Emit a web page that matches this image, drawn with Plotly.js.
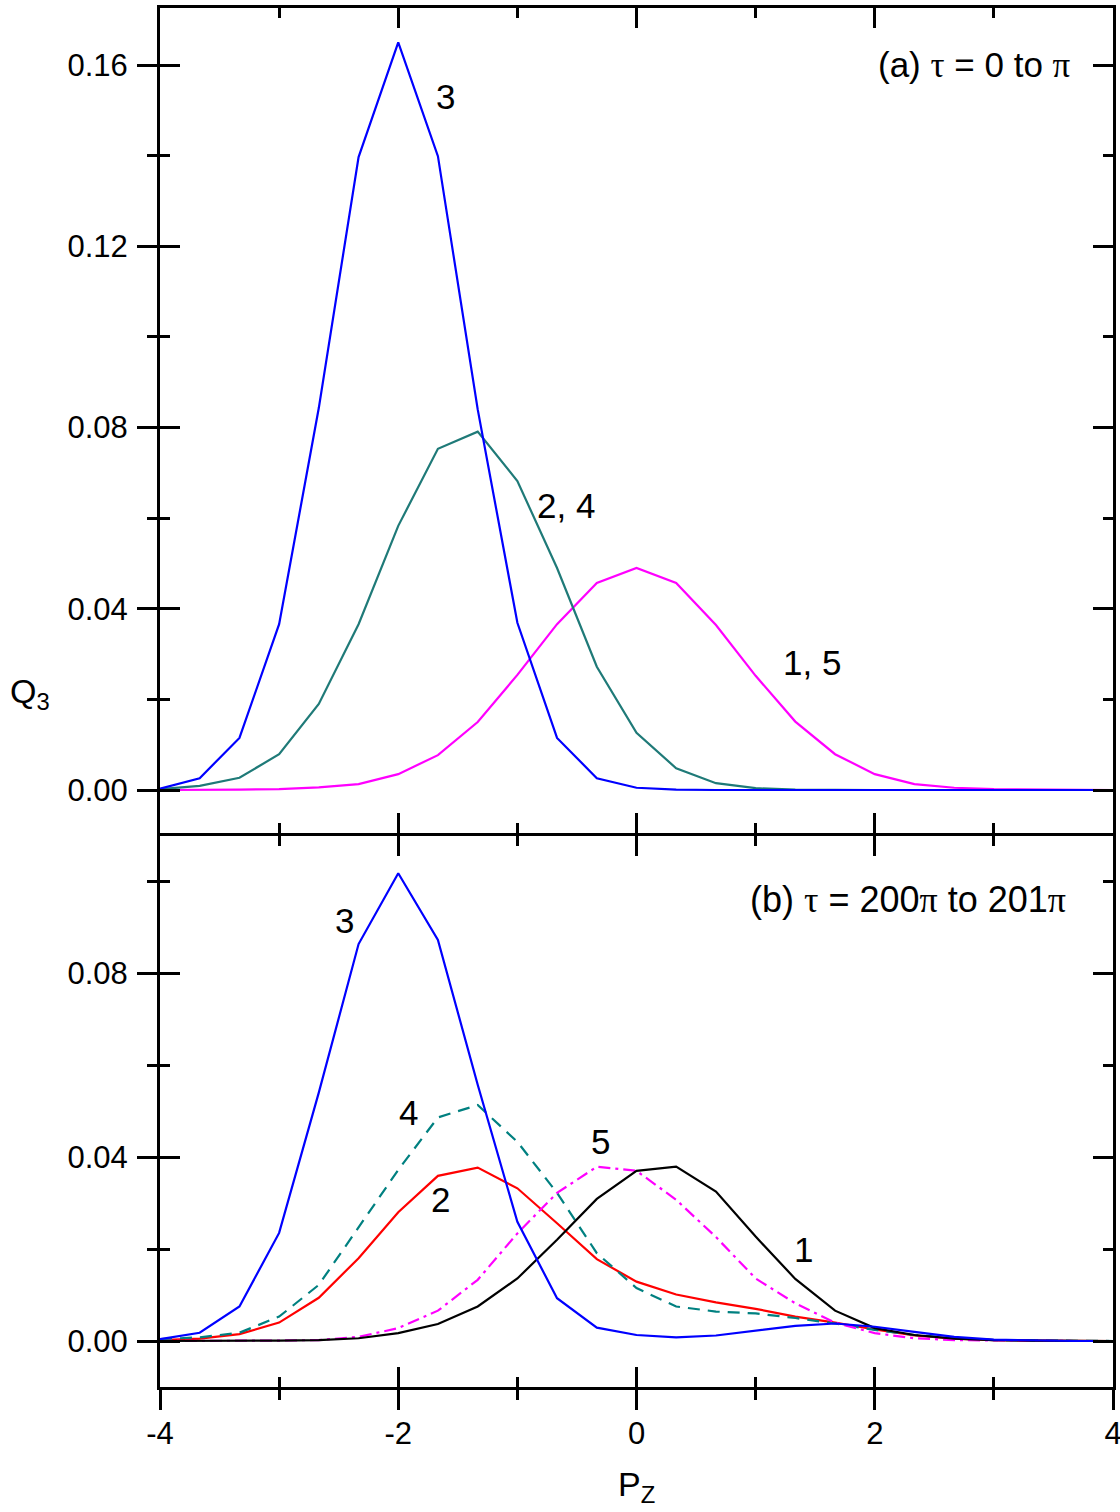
<!DOCTYPE html>
<html>
<head>
<meta charset="utf-8">
<script src="https://cdn.plot.ly/plotly-3.0.1.min.js"></script>
<style>html,body{margin:0;padding:0;background:#fff;}</style>
</head>
<body>
<div id="chart" style="width:1120px;height:1512px;"></div>
<script>
// ---- data ----
const pz = [-4, -3.667, -3.333, -3, -2.667, -2.333, -2, -1.667, -1.333, -1, -0.667, -0.333, 0,
            0.333, 0.667, 1, 1.333, 1.667, 2, 2.333, 2.667, 3, 3.333, 3.667, 4];

// panel (a): tau = 0 to pi
const aQ3  = [0.0003, 0.0026, 0.0115, 0.0366, 0.0843, 0.1397, 0.1650, 0.1399, 0.0840, 0.0369, 0.0115, 0.0026, 0.0005,
              0.0001, 0, 0, 0, 0, 0, 0, 0, 0, 0, 0, 0];
const aQ24 = [0.0002, 0.0009, 0.0027, 0.0079, 0.0190, 0.0366, 0.0583, 0.0753, 0.0791, 0.0682, 0.0490, 0.0272, 0.0126,
              0.0048, 0.0015, 0.0004, 0.0001, 0, 0, 0, 0, 0, 0, 0, 0];
const aQ15 = [0, 0, 0.0001, 0.0002, 0.0006, 0.0013, 0.0035, 0.0077, 0.0150, 0.0254, 0.0366, 0.0457, 0.0490,
              0.0457, 0.0364, 0.0252, 0.0151, 0.0079, 0.0035, 0.0013, 0.0005, 0.0002, 0.0001, 0, 0];

// panel (b): tau = 200pi to 201pi
const bQ1 = [0, 0, 0, 0.0001, 0.0002, 0.0006, 0.0017, 0.0037, 0.0075, 0.0136, 0.0220, 0.0309, 0.0370,
             0.0379, 0.0325, 0.0227, 0.0135, 0.0066, 0.0028, 0.0013, 0.0005, 0.0002, 0.0001, 0, 0];
const bQ2 = [0.0002, 0.0005, 0.0015, 0.0040, 0.0094, 0.0180, 0.0280, 0.0359, 0.0377, 0.0332, 0.0256, 0.0178, 0.0129,
             0.0101, 0.0084, 0.0070, 0.0053, 0.0040, 0.0025, 0.0012, 0.0005, 0.0002, 0.0001, 0, 0];
const bQ3 = [0.0004, 0.0018, 0.0075, 0.0235, 0.0540, 0.0863, 0.1017, 0.0872, 0.0557, 0.0259, 0.0093, 0.0029, 0.0013,
             0.0008, 0.0012, 0.0022, 0.0033, 0.0038, 0.0031, 0.0020, 0.0009, 0.0003, 0.0001, 0, 0];
const bQ4 = [0.0004, 0.0008, 0.0018, 0.0053, 0.0122, 0.0246, 0.0372, 0.0486, 0.0513, 0.0433, 0.0322, 0.0191, 0.0115,
             0.0075, 0.0064, 0.0060, 0.0050, 0.0038, 0.0024, 0.0013, 0.0006, 0.0002, 0.0001, 0, 0];
const bQ5 = [0, 0, 0, 0.0001, 0.0002, 0.0009, 0.0028, 0.0066, 0.0133, 0.0234, 0.0322, 0.0379, 0.0370,
             0.0307, 0.0226, 0.0136, 0.0082, 0.0040, 0.0017, 0.0006, 0.0002, 0.0001, 0, 0, 0];

const xTickVals = [-4, -2, 0, 2, 4];
const xTickLabels = ['-4', '-2', '0', '2', '4'];
const yTickValsA = [0, 0.04, 0.08, 0.12, 0.16];
const yTickLabelsA = ['0.00', '0.04', '0.08', '0.12', '0.16'];
const yTickValsB = [0, 0.04, 0.08];
const yTickLabelsB = ['0.00', '0.04', '0.08'];

// ---- styling ----
const FONT = '"Liberation Sans", Arial, sans-serif';
const SERIF = "'Liberation Serif', 'Times New Roman', serif";
const LW = 2.2;
const TICKSIZE = 31;
const LABELSIZE = 35;

function tr(y, xa, ya, color, dash) {
  return {x: pz, y: y, xaxis: xa, yaxis: ya, type: 'scatter', mode: 'lines',
          line: {color: color, width: LW, dash: dash || 'solid'}, hoverinfo: 'skip'};
}

// traces spread over the base and overlay axes (identical ranges) so every axis gets drawn
const traces = [
  tr(aQ15, 'x2', 'y2', '#ff00ff'),
  tr(aQ24, 'x2', 'y2', '#1f7a78'),
  tr(aQ3,  'x2', 'y4', '#0000ff'),
  tr(bQ2, 'x', 'y', '#ff0000'),
  tr(bQ4, 'x', 'y', '#008080', '12px,8px'),
  tr(bQ5, 'x', 'y', '#ff00ff', '12px,5px,3px,5px'),
  tr(bQ1, 'x', 'y3', '#000000'),
  tr(bQ3, 'x3', 'y', '#0000ff')
];

const PLOT_H = 1379;
const bottomEnd = (553 - 1.5) / PLOT_H;  // panels meet so their border lines coincide
const topStart = (553 + 1.5) / PLOT_H;
const yRangeA = [-0.00938, 0.1726];
const yRangeB = [-0.0100, 0.1099];

const baseAx = {
  showline: true, linewidth: 3, linecolor: 'black', showgrid: false, zeroline: false,
  tickwidth: 3, tickcolor: 'black', ticklen: 20,
  tickfont: {family: FONT, size: TICKSIZE, color: 'black'}, fixedrange: true
};
function ax(extra) { return Object.assign({}, baseAx, extra); }

const xMinorOut = {dtick: 1, tick0: 0, ticks: 'outside', ticklen: 10, tickwidth: 3, tickcolor: 'black'};
const xMinorIn  = {dtick: 1, tick0: 0, ticks: 'inside',  ticklen: 10, tickwidth: 3, tickcolor: 'black'};
const yMinorOut = {dtick: 0.04, tick0: 0.02, ticks: 'outside', ticklen: 10, tickwidth: 3, tickcolor: 'black'};
const yMinorIn  = {dtick: 0.04, tick0: 0.02, ticks: 'inside',  ticklen: 10, tickwidth: 3, tickcolor: 'black'};

const layout = {
  width: 1120, height: 1512,
  margin: {l: 160, r: 7, t: 8, b: 125, pad: 0},
  paper_bgcolor: 'white', plot_bgcolor: 'white',
  showlegend: false,
  font: {family: FONT, size: TICKSIZE, color: 'black'},
  // bottom panel (b)
  xaxis: ax({domain: [0, 1], anchor: 'y', range: [-4, 4], tickmode: 'array', tickvals: xTickVals,
             ticktext: xTickLabels, ticks: 'outside', minor: xMinorOut, ticklabelstandoff: -3,
             ticklabeloverflow: 'allow', automargin: false}),
  xaxis3: ax({overlaying: 'x', anchor: 'y', range: [-4, 4], tickmode: 'array', tickvals: xTickVals,
              ticks: 'inside', mirror: 'ticks', showticklabels: false, minor: xMinorIn}),
  yaxis: ax({domain: [0, bottomEnd], anchor: 'x', range: yRangeB, tickmode: 'array', tickvals: yTickValsB,
             ticktext: yTickLabelsB, ticks: 'outside', minor: yMinorOut, ticklabelstandoff: 3}),
  yaxis3: ax({overlaying: 'y', anchor: 'x', range: yRangeB, tickmode: 'array', tickvals: yTickValsB,
              ticks: 'inside', mirror: 'ticks', showticklabels: false, minor: yMinorIn}),
  // top panel (a)
  xaxis2: ax({domain: [0, 1], anchor: 'y2', range: [-4, 4], tickmode: 'array', tickvals: xTickVals,
              ticks: 'inside', mirror: 'ticks', showticklabels: false, minor: xMinorIn}),
  yaxis2: ax({domain: [topStart, 1], anchor: 'x2', range: yRangeA, tickmode: 'array', tickvals: yTickValsA,
              ticktext: yTickLabelsA, ticks: 'outside', minor: yMinorOut, ticklabelstandoff: 3}),
  yaxis4: ax({overlaying: 'y2', anchor: 'x2', range: yRangeA, tickmode: 'array', tickvals: yTickValsA,
              ticks: 'inside', mirror: 'ticks', showticklabels: false, minor: yMinorIn}),
  annotations: [
    {text: '(a) <span style="font-family:' + SERIF + '">τ</span> = 0 to <span style="font-family:' + SERIF + '">π</span>',
     xref: 'x2', yref: 'y2', x: 3.666, y: 0.16, xanchor: 'right', yanchor: 'middle', showarrow: false,
     font: {family: FONT, size: LABELSIZE, color: 'black'}},
    {text: '(b) <span style="font-family:' + SERIF + '">τ</span> = 200<span style="font-family:' + SERIF + '">π</span> to 201<span style="font-family:' + SERIF + '">π</span>',
     xref: 'x', yref: 'y', x: 3.624, y: 0.0959, xanchor: 'right', yanchor: 'middle', showarrow: false,
     font: {family: FONT, size: 36, color: 'black'}},
    {text: '3', xref: 'x2', yref: 'y2', x: -1.60, y: 0.153, showarrow: false, font: {family: FONT, size: LABELSIZE}},
    {text: '2, 4', xref: 'x2', yref: 'y2', x: -0.59, y: 0.0629, showarrow: false, font: {family: FONT, size: LABELSIZE}},
    {text: '1, 5', xref: 'x2', yref: 'y2', x: 1.475, y: 0.0282, showarrow: false, font: {family: FONT, size: LABELSIZE}},
    {text: '3', xref: 'x', yref: 'y', x: -2.455, y: 0.0915, showarrow: false, font: {family: FONT, size: LABELSIZE}},
    {text: '4', xref: 'x', yref: 'y', x: -1.918, y: 0.0496, showarrow: false, font: {family: FONT, size: LABELSIZE}},
    {text: '2', xref: 'x', yref: 'y', x: -1.649, y: 0.0307, showarrow: false, font: {family: FONT, size: LABELSIZE}},
    {text: '5', xref: 'x', yref: 'y', x: -0.306, y: 0.0433, showarrow: false, font: {family: FONT, size: LABELSIZE}},
    {text: '1', xref: 'x', yref: 'y', x: 1.399, y: 0.0198, showarrow: false, font: {family: FONT, size: LABELSIZE}},
    {text: 'Q<sub>3</sub>', xref: 'paper', yref: 'paper', x: -0.136, y: 0.503, xanchor: 'center', yanchor: 'middle',
     showarrow: false, font: {family: FONT, size: 34}},
    {text: 'P<sub>Z</sub>', xref: 'paper', yref: 'paper', x: 0.5, y: -0.072, xanchor: 'center', yanchor: 'middle',
     showarrow: false, font: {family: FONT, size: 34}}
  ]
};

Plotly.newPlot('chart', traces, layout, {staticPlot: true, displayModeBar: false});
</script>
</body>
</html>
